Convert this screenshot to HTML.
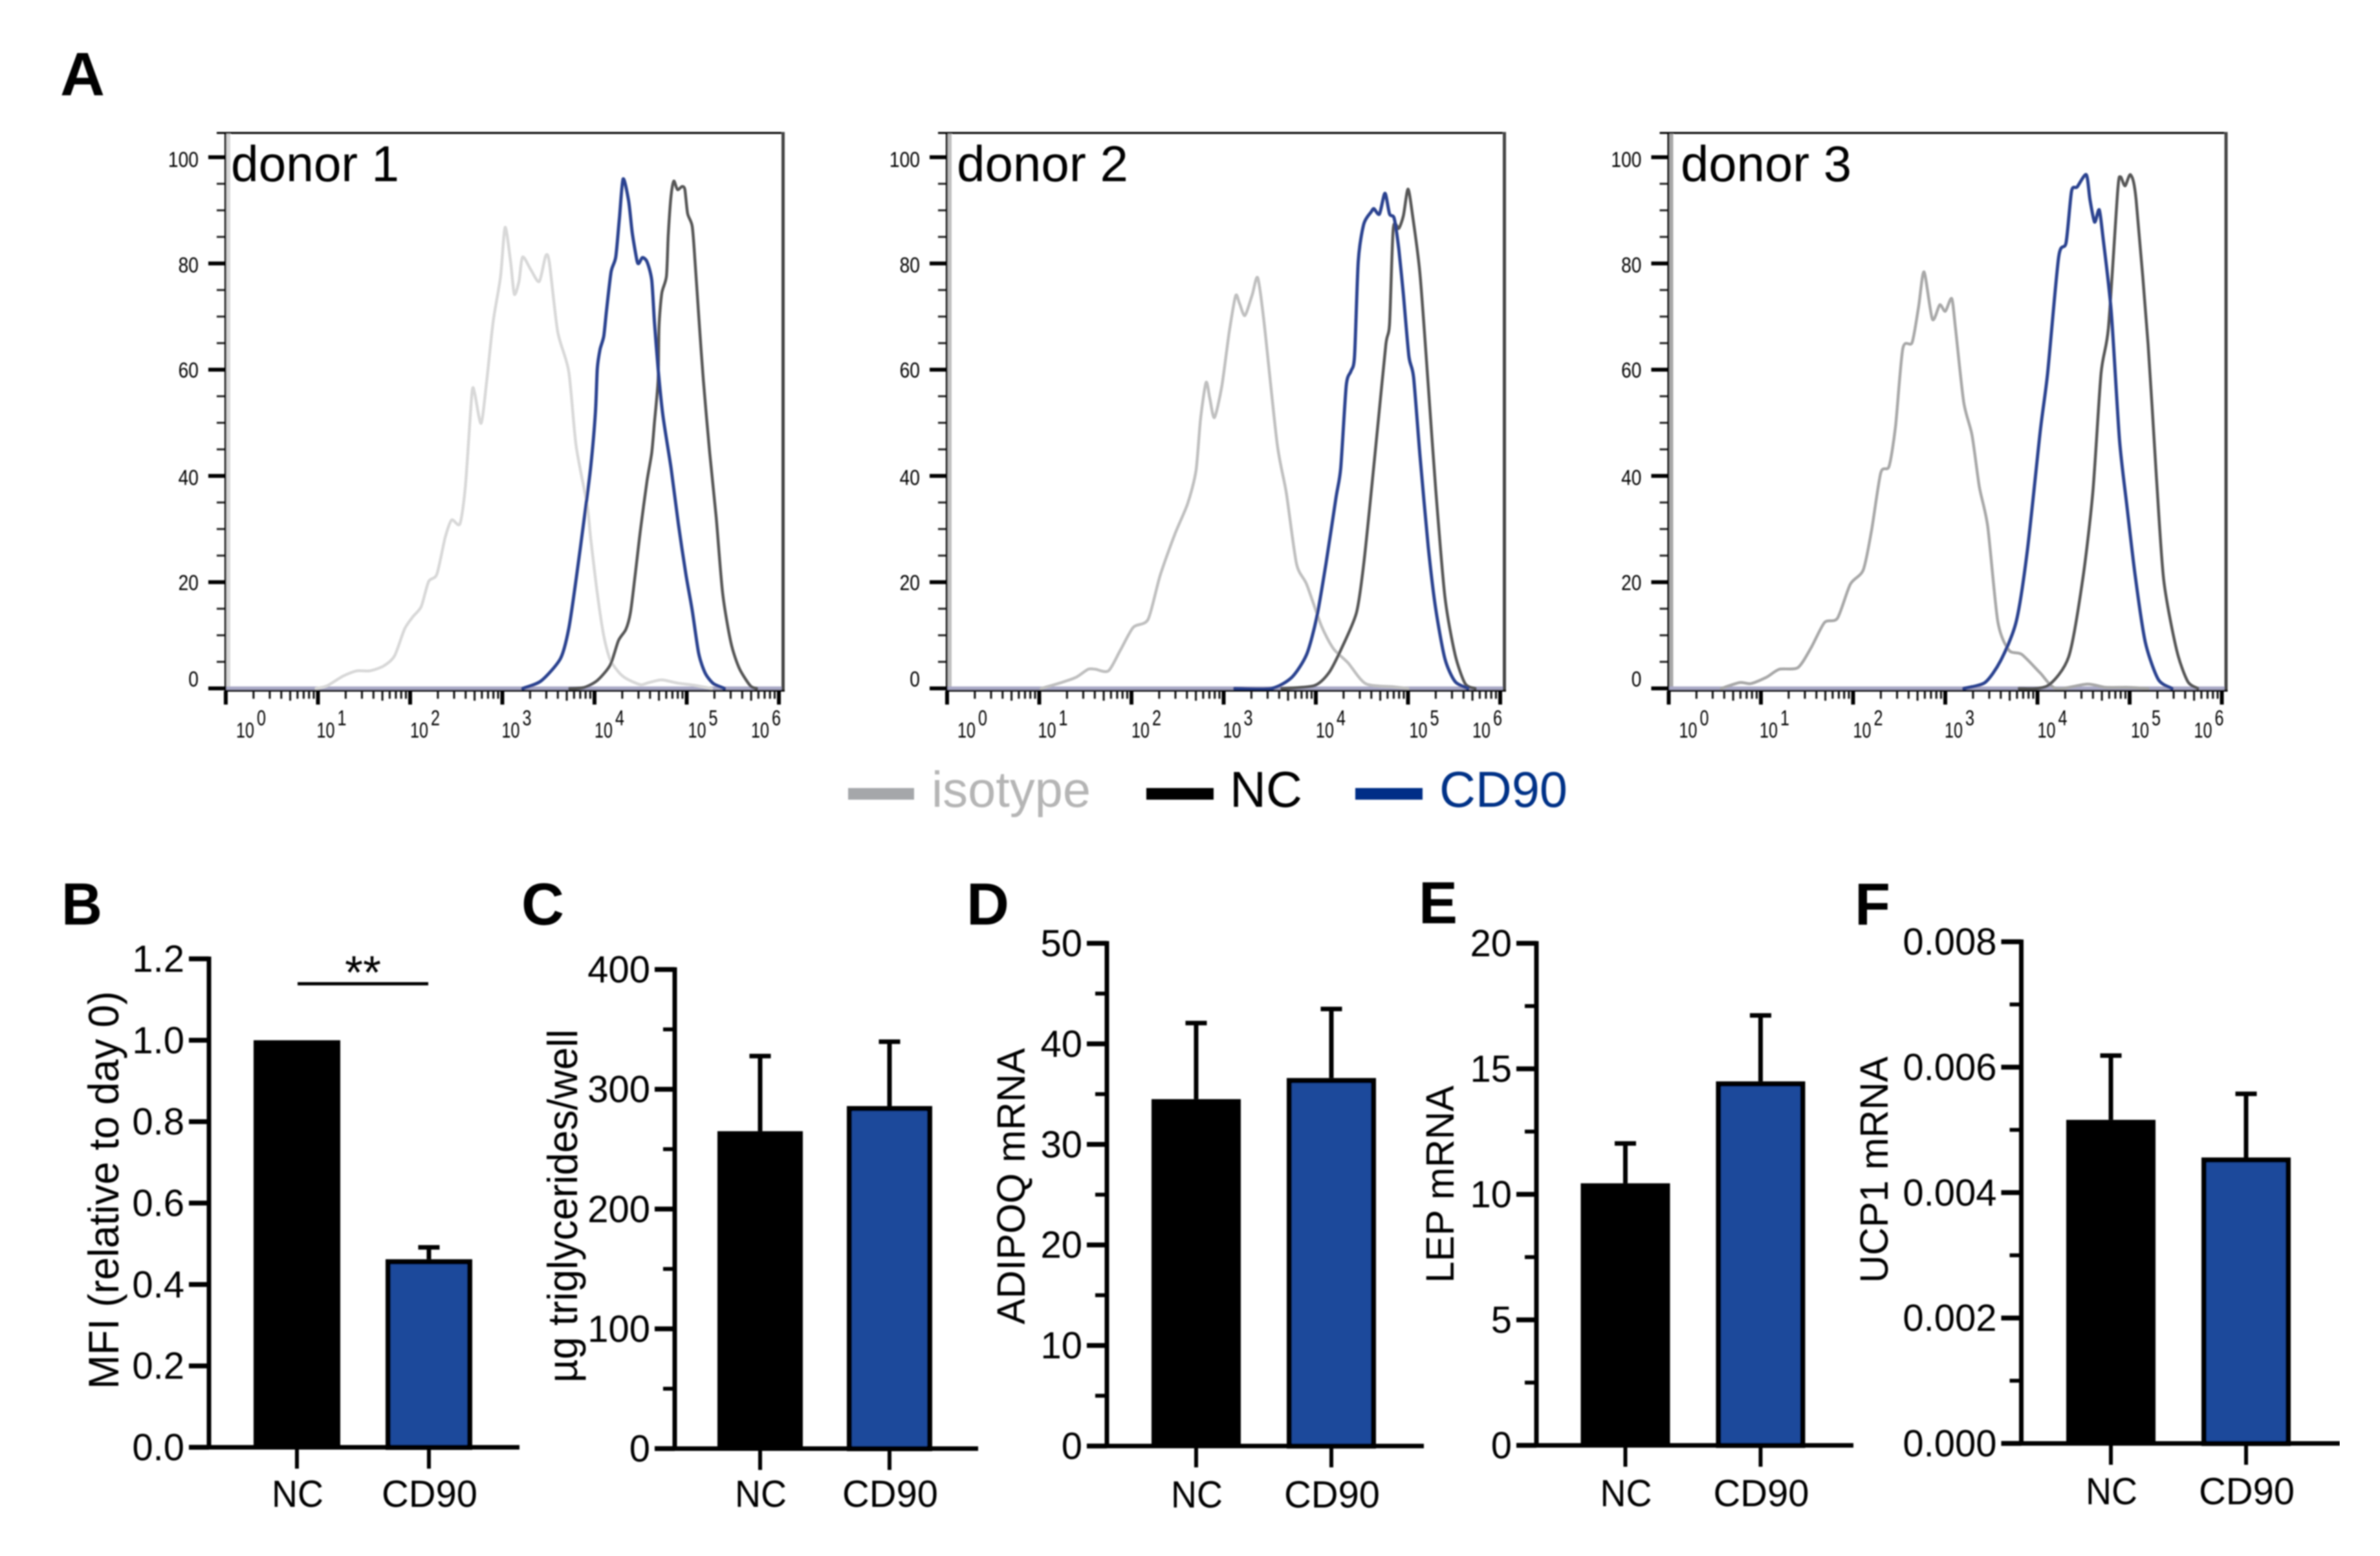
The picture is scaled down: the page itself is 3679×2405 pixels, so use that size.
<!DOCTYPE html>
<html lang="en">
<head>
<meta charset="utf-8">
<title>Flow cytometry histograms and bar charts: NC versus CD90</title>
<style>
html,body{margin:0;padding:0;background:#fff}
svg{display:block}
text{font-family:"Liberation Sans",Arial,sans-serif}
</style>
</head>
<body>
<svg id="figure" xmlns="http://www.w3.org/2000/svg" width="3679" height="2405" viewBox="0 0 3679 2405">
<defs><filter id="soft" x="0" y="0" width="100%" height="100%"><feGaussianBlur stdDeviation="1"/></filter></defs>
<rect width="3679" height="2405" fill="#fff"/>
<g id="root" filter="url(#soft)">
  <text x="93" y="147" font-size="95" font-weight="bold" textLength="69" lengthAdjust="spacingAndGlyphs">A</text>
  <text x="95" y="1429" font-size="92" font-weight="bold" textLength="63" lengthAdjust="spacingAndGlyphs">B</text>
  <text x="806" y="1429" font-size="92" font-weight="bold" textLength="66" lengthAdjust="spacingAndGlyphs">C</text>
  <text x="1494" y="1429" font-size="92" font-weight="bold" textLength="66" lengthAdjust="spacingAndGlyphs">D</text>
  <text x="2193" y="1427" font-size="92" font-weight="bold" textLength="60" lengthAdjust="spacingAndGlyphs">E</text>
  <text x="2867" y="1429" font-size="92" font-weight="bold" textLength="55" lengthAdjust="spacingAndGlyphs">F</text>

  <g id="flow-panels"></g>

  <text x="357" y="280" font-size="78" textLength="260" lengthAdjust="spacingAndGlyphs">donor 1</text>
  <text x="1479" y="280" font-size="78" textLength="265" lengthAdjust="spacingAndGlyphs">donor 2</text>
  <text x="2598" y="280" font-size="78" textLength="264" lengthAdjust="spacingAndGlyphs">donor 3</text>

  <g>
    <rect x="1311" y="1218" width="102" height="18" fill="#a5a7aa"/>
    <text x="1440" y="1247" font-size="78" fill="#b5b5b5" textLength="246" lengthAdjust="spacingAndGlyphs">isotype</text>
    <rect x="1772" y="1218" width="104" height="18" fill="#000"/>
    <text x="1901" y="1247" font-size="78" fill="#000" textLength="112" lengthAdjust="spacingAndGlyphs">NC</text>
    <rect x="2095" y="1218" width="104" height="18" fill="#002f87"/>
    <text x="2225" y="1247" font-size="78" fill="#003087" textLength="198" lengthAdjust="spacingAndGlyphs">CD90</text>
  </g>

  <g id="bar-panels"></g>

  <text transform="translate(183,2147) rotate(-90)" font-size="66" textLength="615" lengthAdjust="spacingAndGlyphs">MFI (relative to day 0)</text>
  <text transform="translate(892,2137) rotate(-90)" font-size="65" textLength="546" lengthAdjust="spacingAndGlyphs">µg triglycerides/well</text>
  <text transform="translate(1584,2047) rotate(-90)" font-size="61" textLength="427" lengthAdjust="spacingAndGlyphs">ADIPOQ mRNA</text>
  <text transform="translate(2247,1983) rotate(-90)" font-size="61" textLength="305" lengthAdjust="spacingAndGlyphs">LEP mRNA</text>
  <text transform="translate(2918,1983) rotate(-90)" font-size="61" textLength="350" lengthAdjust="spacingAndGlyphs">UCP1 mRNA</text>

  <rect x="460" y="1518" width="202" height="5" fill="#000"/>
  <text x="561" y="1528" font-size="72" text-anchor="middle">**</text>
</g>
</svg>
<script>
// Flow cytometry histograms: log10 fluorescence and percent of max
const flowYTickLabels = ['0', '20', '40', '60', '80', '100'];
const flowXExponents = ['0', '1', '2', '3', '4', '5', '6'];

const donor1IsotypeLog = [0.98,1.10,1.27,1.42,1.56,1.71,1.83,1.94,2.03,2.12,2.20,2.29,2.38,2.45,2.54,2.60,2.67,2.70,2.77,2.83,2.90,2.98,3.03,3.09,3.13,3.18,3.22,3.31,3.40,3.47,3.51,3.60,3.72,3.80,3.92,3.96,4.03,4.10,4.17,4.27,4.36,4.50,4.59,4.73,4.90,5.08,5.27];
const donor1IsotypePct = [0,0.5,2.3,3.3,3.3,4.2,6.1,11.2,13.5,15.4,20.1,21.5,28.4,31.7,31.0,38.2,55.5,55.5,49.9,57.8,69,77.4,86.8,80.3,74.2,76.6,81.2,78.8,76.6,81.4,80.2,67.2,59.7,45.7,34.5,28,17.9,9.9,5.4,2.9,1.7,0.7,1.1,1.6,1.0,0.6,0];
const donor1NcLog = [3.73,3.89,4.03,4.17,4.26,4.34,4.39,4.44,4.50,4.57,4.62,4.65,4.69,4.70,4.73,4.78,4.80,4.83,4.86,4.90,4.95,4.98,5.01,5.06,5.09,5.13,5.18,5.25,5.32,5.39,5.48,5.57,5.69,5.76];
const donor1NcPct = [0,0.2,1.5,4.4,9.0,11.1,14.3,21.2,30.1,39.1,44.3,50,58.1,68.3,74.4,77.6,85.4,92.7,95.5,93.9,94.5,93.9,89.4,87,80.5,70.3,58.1,44.3,32.2,17.9,8.6,3.8,0.5,0];
const donor1Cd90Log = [3.22,3.42,3.63,3.72,3.80,3.89,3.96,4.01,4.03,4.06,4.10,4.13,4.18,4.23,4.27,4.31,4.37,4.41,4.46,4.48,4.52,4.57,4.62,4.65,4.69,4.74,4.83,4.91,4.99,5.06,5.13,5.20,5.29,5.41];
const donor1Cd90Pct = [0,1.4,5.6,11.2,20.5,32.2,41.9,52,60.2,63.8,66.3,71.1,78.4,81.2,88.5,95.9,91.8,85.7,80.6,80,81.1,80.3,76.9,69,60.2,51.6,41.5,30.9,21.6,14.7,6.6,2.9,0.9,0];

const donor2IsotypeLog = [1.02,1.24,1.40,1.53,1.61,1.75,1.88,2.02,2.18,2.31,2.47,2.61,2.70,2.75,2.81,2.85,2.90,2.98,3.06,3.13,3.17,3.23,3.31,3.37,3.44,3.58,3.68,3.79,3.90,4.06,4.19,4.35,4.54,4.84,5.00];
const donor2IsotypePct = [0,1.1,2.1,3.6,3.6,3.3,7.2,11.5,13,21.2,29,34.8,41,50.8,57.6,54.6,51,56.9,67,73.9,72.6,70.2,74.1,77.3,68.7,46.1,36.8,23.5,19.6,11.8,7.5,4.8,0.9,0.3,0];
const donor2NcLog = [3.63,3.98,4.14,4.27,4.44,4.52,4.60,4.68,4.76,4.80,4.84,4.90,4.95,5.00,5.05,5.13,5.22,5.30,5.40,5.51,5.62,5.73];
const donor2NcPct = [0,0.5,2.9,7.2,14.2,23.5,36.8,50.8,64.8,68.7,86.6,86.6,89,94,89,78,57,37.5,17.3,6.4,0.9,0];
const donor2Cd90Log = [3.12,3.52,3.74,3.90,4.01,4.11,4.22,4.27,4.33,4.38,4.42,4.46,4.52,4.60,4.63,4.69,4.75,4.80,4.85,4.90,4.95,5.01,5.06,5.13,5.22,5.30,5.40,5.51,5.65];
const donor2Cd90Pct = [0,0,2.1,6.4,13.4,23.5,36,41.5,57,59.7,62.5,80.4,87.4,89.7,90.3,89.3,93.2,89.3,88.5,82.7,74.1,62.5,58.6,43.8,26.6,15,5.6,1.3,0];

const donor3IsotypeLog = [0.57,0.77,0.89,1.06,1.20,1.40,1.54,1.69,1.83,1.97,2.11,2.20,2.30,2.39,2.46,2.54,2.64,2.71,2.77,2.86,2.94,3.00,3.07,3.11,3.20,3.29,3.37,3.46,3.57,3.69,3.83,4.03,4.20,4.54,4.74,4.97,5.20];
const donor3IsotypePct = [0,1.1,0.9,2.1,3.6,3.9,7.5,12.4,13.2,19.6,22.3,29.7,40.6,41.8,49.3,64,65.1,71.8,78.4,69.5,72.2,71,73.4,67.9,53.9,47.7,37.9,30.5,12.6,7.2,6.4,2.9,0,0.8,0.2,0.2,0];
const donor3NcLog = [3.80,4.11,4.34,4.49,4.60,4.69,4.77,4.87,4.90,4.95,5.01,5.07,5.20,5.29,5.37,5.51,5.63,5.74];
const donor3NcPct = [0,0.5,6,20.4,36.8,59.3,67.9,93.6,96.3,94.6,96.7,92,64.8,39.9,20.4,7.2,1.3,0];
const donor3Cd90Log = [3.20,3.43,3.60,3.77,3.89,4.03,4.11,4.23,4.31,4.37,4.43,4.53,4.57,4.62,4.67,4.71,4.80,4.89,4.97,5.06,5.17,5.31,5.46];
const donor3Cd90Pct = [0,1.1,5.2,12.6,25.9,48.4,59.3,81.2,83.9,93.6,94.4,96.7,92,87.8,90.1,85,71,46.8,34.4,21.2,8.7,1.7,0];

// Bar charts: categories, means, error bars, tick labels
const barCategories = ['NC', 'CD90'];
const mfiMeans = [1.0, 0.462];
const mfiErrors = [0, 0.03];
const mfiTickLabels = ['0.0', '0.2', '0.4', '0.6', '0.8', '1.0', '1.2'];
const triglycerideMeans = [265, 286];
const triglycerideErrors = [63, 54];
const triglycerideTickLabels = ['0', '100', '200', '300', '400'];
const adipoqMeans = [34.5, 36.6];
const adipoqErrors = [7.6, 6.9];
const adipoqTickLabels = ['0', '10', '20', '30', '40', '50'];
const lepMeans = [10.44, 14.5];
const lepErrors = [1.6, 2.64];
const lepTickLabels = ['0', '5', '10', '15', '20'];
const ucp1Means = [0.00516, 0.00456];
const ucp1Errors = [0.00103, 0.00102];
const ucp1TickLabels = ['0.000', '0.002', '0.004', '0.006', '0.008'];

const SVG_NS = 'http://www.w3.org/2000/svg';

function addRect(parent, name, x, y, w, h, fill) {
  const el = document.createElementNS(SVG_NS, 'rect');
  el.setAttribute('x', x);
  el.setAttribute('y', y);
  el.setAttribute('width', w);
  el.setAttribute('height', h);
  el.setAttribute('fill', fill);
  
  
  parent.appendChild(el);
  return el;
}

function addText(parent, name, x, y, str, size, anchor, length) {
  const el = document.createElementNS(SVG_NS, 'text');
  el.setAttribute('x', x);
  el.setAttribute('y', y);
  el.setAttribute('font-size', size);
  el.setAttribute('text-anchor', anchor);
  if (length) {
    el.setAttribute('textLength', length);
    el.setAttribute('lengthAdjust', 'spacingAndGlyphs');
  }
  el.textContent = str;
  
  
  parent.appendChild(el);
  return el;
}

function addGroup(parent, name) {
  const el = document.createElementNS(SVG_NS, 'g');
  
  
  parent.appendChild(el);
  return el;
}

// Smooth path through the read points (Catmull-Rom converted to cubic Bezier)
function smoothPath(pts) {
  let d = 'M' + pts[0][0].toFixed(1) + ' ' + pts[0][1].toFixed(1);
  for (let i = 0; i < pts.length - 1; i++) {
    const p0 = pts[Math.max(i - 1, 0)], p1 = pts[i], p2 = pts[i + 1], p3 = pts[Math.min(i + 2, pts.length - 1)];
    const c1x = p1[0] + (p2[0] - p0[0]) / 8, c1y = p1[1] + (p2[1] - p0[1]) / 8;
    const c2x = p2[0] - (p3[0] - p1[0]) / 8, c2y = p2[1] - (p3[1] - p1[1]) / 8;
    d += 'C' + c1x.toFixed(1) + ' ' + c1y.toFixed(1) + ' ' + c2x.toFixed(1) + ' ' + c2y.toFixed(1) + ' ' + p2[0].toFixed(1) + ' ' + p2[1].toFixed(1);
  }
  return d;
}

// ---------- Flow histogram panels ----------
const flowTop = 205, flowBottom = 1066, flowY0 = 1064, flowY100 = 243, decadePx = 142.5;
const exponentNudge = [16, -2, 0, -1, 0, 2, -43];
const yLabelNudge = [-15, 0, 2, 0, 2, 3];
const flowHost = document.getElementById('flow-panels');

function drawFlowPanel(name, x0, isoColor, isoLog, isoPct, ncLog, ncPct, cdLog, cdPct) {
  const g = addGroup(flowHost, name);
  const sx = d => x0 + d * decadePx;
  const sy = v => flowY0 - v * (flowY0 - flowY100) / 100;
  const left = x0 - 2, right = x0 + 864;

  addRect(g, 'isotype-spike', sx(0), flowTop, 7, flowY0 - flowTop, isoColor);
  addRect(g, 'zero-baseline', left, flowY0 - 3, right - left, 5, '#a9a9c6');

  const drawLine = (seriesName, xs, ys, color, width) => {
    const pts = xs.map((d, i) => [sx(d), sy(ys[i])]);
    const line = document.createElementNS(SVG_NS, 'path');
    line.setAttribute('d', smoothPath(pts));
    line.setAttribute('fill', 'none');
    line.setAttribute('stroke', color);
    line.setAttribute('stroke-width', width);
    line.setAttribute('stroke-linejoin', 'round');
    line.setAttribute('stroke-linecap', 'round');
    
    
    g.appendChild(line);
  };
  drawLine('isotype-histogram', isoLog, isoPct, isoColor, '4.5');
  drawLine('nc-histogram', ncLog, ncPct, '#565656', '4.5');
  drawLine('cd90-histogram', cdLog, cdPct, '#2a4390', '5');

  // frame
  addRect(g, 'frame-top', left - 12, flowTop - 1, right - left + 12, 3, '#000');
  addRect(g, 'frame-right', right - 5, flowTop - 1, 5, flowBottom - flowTop + 3, '#444');
  addRect(g, 'frame-left', left, flowTop - 1, 3, flowBottom - flowTop + 3, '#000');
  addRect(g, 'frame-bottom', left, flowBottom, right - left, 3, '#000');

  // y axis
  for (let v = 0; v <= 100; v += 5) {
    if (v % 20 === 0) {
      addRect(g, 'y-major-tick', left - 25, sy(v) - 3, 25, 6, '#000');
    } else {
      addRect(g, 'y-minor-tick', left - 12, sy(v) - 1.5, 12, 3, '#222');
    }
  }
  flowYTickLabels.forEach((label, i) => {
    const v = Number(label);
    addText(g, 'y-tick-label', x0 - 42, sy(v) + yLabelNudge[i] + 12, label, 33, 'end', label.length * 15.7);
  });

  // x axis
  flowXExponents.forEach((exp, i) => {
    const d = Number(exp);
    addRect(g, 'x-major-tick', sx(d) - 3, flowBottom + 2, 6, 21, '#000');
    const lx = sx(d) + exponentNudge[i];
    addText(g, 'x-tick-label-base', lx, 1140, '10', 33, 'start', 28);
    addText(g, 'x-tick-label-exponent', lx + 32, 1121, exp, 33, 'start', 14);
    if (d < 6) {
      for (let k = 2; k <= 9; k++) {
        const len = k === 5 ? 15 : 12;
        addRect(g, 'x-minor-tick', sx(d + Math.log10(k)) - 1.5, flowBottom + 2, 3, len, '#111');
      }
    }
  });
}

drawFlowPanel('donor-1-histogram-panel', 349, '#d8d8d8', donor1IsotypeLog, donor1IsotypePct, donor1NcLog, donor1NcPct, donor1Cd90Log, donor1Cd90Pct);
drawFlowPanel('donor-2-histogram-panel', 1464, '#bfbfbf', donor2IsotypeLog, donor2IsotypePct, donor2NcLog, donor2NcPct, donor2Cd90Log, donor2Cd90Pct);
drawFlowPanel('donor-3-histogram-panel', 2579.5, '#a8a8a8', donor3IsotypeLog, donor3IsotypePct, donor3NcLog, donor3NcPct, donor3Cd90Log, donor3Cd90Pct);

// ---------- Bar chart panels ----------
const barHost = document.getElementById('bar-panels');

function drawBarPanel(name, layout, means, errors, tickLabels) {
  const g = addGroup(barHost, name);
  const maxV = Number(tickLabels[tickLabels.length - 1]);
  const step = Number(tickLabels[1]) - Number(tickLabels[0]);
  const sy = v => layout.y0 - v / maxV * (layout.y0 - layout.yTop);
  const cx = i => layout.c0 + i * layout.step;
  const w = layout.barW;

  barCategories.forEach((cat, i) => {
    const yMean = sy(means[i]);
    if (errors[i] > 0) {
      const yErr = sy(means[i] + errors[i]);
      addRect(g, 'error-stem-' + cat.toLowerCase(), cx(i) - 3.5, yErr, 7, yMean - yErr, '#000');
      addRect(g, 'error-cap-' + cat.toLowerCase(), cx(i) - 16.5, yErr - 3, 33, 7, '#000');
    }
    if (i === 0) {
      addRect(g, 'bar-nc', cx(i) - w / 2, yMean, w, layout.y0 - yMean, '#000');
    } else {
      const bar = addRect(g, 'bar-cd90', cx(i) - w / 2 + 4, yMean + 4, w - 8, layout.y0 - yMean - 4, '#1b4a9b');
      bar.setAttribute('stroke', '#000');
      bar.setAttribute('stroke-width', '8');
    }
    addRect(g, 'x-tick', cx(i) - 3, layout.y0, 6, 33, '#000');
    addText(g, 'x-tick-label', cx(i) + 1, layout.labelY, cat, 58, 'middle', cat === 'NC' ? 80 : 148);
  });

  // axes
  addRect(g, 'y-axis-line', layout.axisX - 3.5, layout.yTop - 3.5, 7, layout.y0 - layout.yTop + 7, '#000');
  addRect(g, 'x-axis-line', layout.axisX - 31, layout.y0 - 3.5, layout.endX - layout.axisX + 31, 7, '#000');

  tickLabels.forEach(label => {
    const v = Number(label);
    addRect(g, 'y-major-tick', layout.axisX - 31, sy(v) - 3.75, 31, 7.5, '#000');
    addText(g, 'y-tick-label', layout.axisX - 38, sy(v) + 20, label, 58, 'end');
    if (layout.minor && v < maxV) {
      addRect(g, 'y-minor-tick', layout.axisX - 18, sy(v + step / 2) - 3, 18, 6, '#000');
    }
  });
}

drawBarPanel('mfi-bar-chart', {axisX: 323, y0: 2237, yTop: 1482, endX: 803, c0: 459, step: 204, barW: 134, labelY: 2329, minor: false}, mfiMeans, mfiErrors, mfiTickLabels);
drawBarPanel('triglyceride-bar-chart', {axisX: 1043, y0: 2239, yTop: 1498.5, endX: 1512, c0: 1175, step: 200, barW: 132, labelY: 2329, minor: true}, triglycerideMeans, triglycerideErrors, triglycerideTickLabels);
drawBarPanel('adipoq-bar-chart', {axisX: 1711, y0: 2235, yTop: 1458, endX: 2201, c0: 1849, step: 209, barW: 138, labelY: 2330, minor: true}, adipoqMeans, adipoqErrors, adipoqTickLabels);
drawBarPanel('lep-bar-chart', {axisX: 2375, y0: 2234, yTop: 1458, endX: 2865, c0: 2512.5, step: 209, barW: 138, labelY: 2328, minor: true}, lepMeans, lepErrors, lepTickLabels);
drawBarPanel('ucp1-bar-chart', {axisX: 3124.5, y0: 2231, yTop: 1455.6, endX: 3617, c0: 3263, step: 209, barW: 138, labelY: 2325, minor: true}, ucp1Means, ucp1Errors, ucp1TickLabels);
</script>
</body>
</html>
